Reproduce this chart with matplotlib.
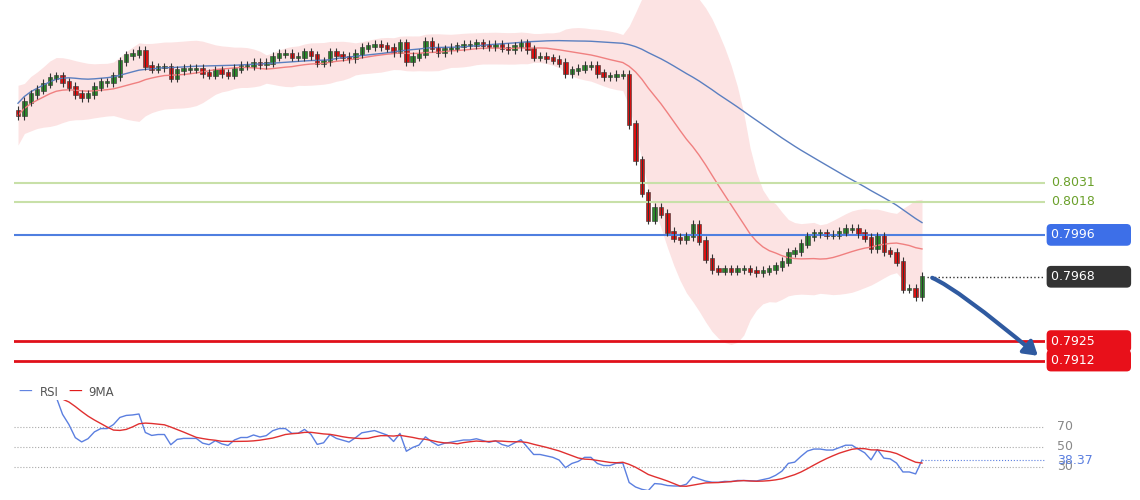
import numpy as np, pandas as pd, matplotlib
matplotlib.use("Agg")
import matplotlib.pyplot as plt

closes = [0.8076,0.8085,0.8090,0.8093,0.8097,0.8101,0.8102,0.8098,0.8095,0.8090,0.8088,0.8090,
0.8095,0.8098,0.8098,0.8102,0.8112,0.8116,
0.8117,0.8119,0.8109,0.8107,0.8108,0.8108,0.8101,0.8106,0.8107,0.8107,0.8107,0.8104,0.8103,0.8106,
0.8104,0.8103,0.8107,0.8109,0.8109,0.8111,0.8110,0.8111,0.8115,0.8117,0.8117,0.8115,0.8115,
0.8118,0.8116,0.8111,0.8112,0.8118,0.8116,0.8115,0.8114,0.8117,0.8121,0.8122,
0.8123,0.8122,0.8121,0.8118,0.8124,0.8112,0.8115,0.8117,0.8125,0.8121,0.8118,0.8120,0.8121,0.8122,
0.8123,0.8123,0.8124,0.8123,0.8122,0.8123,0.8121,0.8120,0.8122,0.8124,0.8120,0.8115,0.8115,
0.8114,0.8113,0.8111,0.8104,0.8106,0.8107,0.8109,0.8109,0.8104,0.8102,0.8102,0.8103,0.8103,
0.8070,0.8046,0.8024,0.8006,0.8014,0.8010,0.7998,0.7994,0.7993,0.7995,0.8003,0.7992,0.7980,0.7973,
0.7972,0.7973,0.7972,0.7973,0.7973,0.7972,0.7971,0.7972,0.7973,0.7975,0.7978,0.7984,0.7985,0.7990,
0.7995,0.7997,0.7997,0.7996,0.7996,0.7998,0.8000,0.8000,0.7997,0.7994,0.7987,0.7995,0.7985,0.7984,
0.7978,0.7960,0.7960,0.7955,0.7968]
first_open = 0.8079
levels_green = [0.8031, 0.8018]
level_blue = 0.7996
level_last = 0.7968
levels_red = [0.7925, 0.7912]
rsi_levels = [70, 50, 30]
rsi_last = "38.37"

W, H = 1140, 500
fig = plt.figure(figsize=(11.4, 5), dpi=100)
L, R = 14, 1045
ax = fig.add_axes([L/W, 1-380/H, (R-L)/W, 380/H])
c = np.array(closes); n = len(c)
o = np.concatenate([[first_open], c[:-1]])
x = np.arange(n)
ppc = (922-18)/(n-1)
xl = (-(18-L)/ppc, n-1+(R-922)/ppc)
ax.set_xlim(*xl); ax.set_ylim(0.7899, 0.8153)
ax.axis('off')

s = pd.Series(c)
ma = s.rolling(20, min_periods=1).mean(); sd = s.rolling(20, min_periods=2).std().fillna(0.0008)
ax.fill_between(x, ma-2*sd-0.0004, ma+2*sd+0.0004, color='#fcdcdc', alpha=0.8, lw=0)
ax.plot(x, ma, color='#f08080', lw=1)
ax.plot(x, s.rolling(50, min_periods=1).mean()+0.0008, color='#5b7fc0', lw=1)

for lv in levels_green: ax.axhline(lv, color='#c8e0a8', lw=1.5)
ax.axhline(level_blue, color='#4f7fe0', lw=1.5)
for lv in levels_red: ax.axhline(lv, color='#e0101a', lw=2)
ax.plot([n-1+0.8, xl[1]], [level_last]*2, ls=':', color='#333', lw=1)

up = c >= o
hi = np.maximum(o, c)+0.0003; lo = np.minimum(o, c)-0.0003
ax.vlines(x, lo, hi, color='#333', lw=0.8)
ax.bar(x, np.abs(c-o)+0.00012, bottom=np.minimum(o, c)-0.00006, width=0.7,
       color=np.where(up, '#2a8a2a', '#e01010'), edgecolor='#333', lw=0.4)

ax.annotate('', xy=(n-1+(1040-922)/ppc, 0.7914), xytext=(n-1+1.2, level_last),
            arrowprops=dict(arrowstyle='-|>,head_width=0.5,head_length=0.8', color='#2f5aa0', lw=3,
                            connectionstyle='angle3,angleA=-20,angleB=-40'))

def tag(v, txt, fc, tc):
    ax.text(xl[1]+6/ppc, v, txt, ha='left', va='center', color=tc, fontsize=9, clip_on=False,
            bbox=dict(boxstyle='round,pad=0.35', fc=fc, ec='none') if fc else None)
for lv in levels_green: tag(lv, f"{lv:.4f}", None, '#6aa02a')
tag(level_blue, f"{level_blue:.4f}        ", '#3d6fe8', 'white')
tag(level_last, f"{level_last:.4f}        ", '#333333', 'white')
for lv in levels_red: tag(lv, f"{lv:.4f}        ", '#e8101a', 'white')

# RSI
d = s.diff().fillna(0)
g = d.clip(lower=0).ewm(alpha=1/14, adjust=False).mean()
ls_ = (-d.clip(upper=0)).ewm(alpha=1/14, adjust=False).mean()
rsi = 100 - 100/(1+g/ls_.replace(0, 1e-9))
rsi.iloc[0] = rsi.iloc[1]
ax2 = fig.add_axes([L/W, 1-490/H, (R-L)/W, 90/H])
ax2.set_xlim(*xl); ax2.set_ylim(7, 97); ax2.axis('off')
for lv in rsi_levels:
    ax2.axhline(lv, color='#aaa', ls=':', lw=0.8)
    ax2.text(xl[1]+12/ppc, lv, str(lv), va='center', fontsize=9, color='#888', clip_on=False)
ax2.plot(x, rsi, color='#5b7fe0', lw=1)
ax2.plot(x, rsi.rolling(9, min_periods=1).mean(), color='#e03030', lw=1)
ax2.plot([n-1, xl[1]], [rsi.iloc[-1]]*2, ls=':', color='#5b7fe0', lw=0.8)
ax2.text(xl[1]+12/ppc, rsi.iloc[-1], rsi_last, va='center', fontsize=9, color='#5b7fe0', clip_on=False)
fig.text(18/W, 1-392/H, '\u2014', color='#5b7fe0', fontsize=10, va='center')
fig.text(40/W, 1-392/H, 'RSI', color='#555', fontsize=8.5, va='center')
fig.text(68/W, 1-392/H, '\u2014', color='#e01010', fontsize=10, va='center')
fig.text(88/W, 1-392/H, '9MA', color='#555', fontsize=8.5, va='center')
fig.savefig('out.png', dpi=100, facecolor='white')
